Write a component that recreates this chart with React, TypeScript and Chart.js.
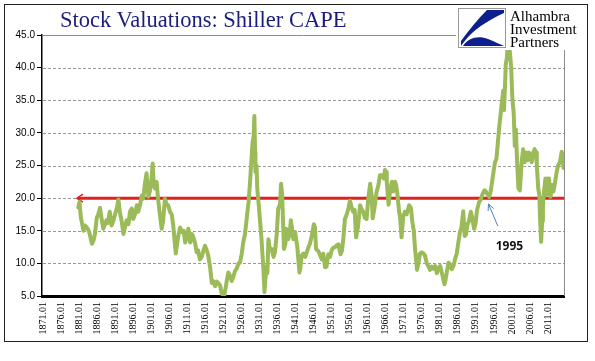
import React, { useEffect, useRef } from 'react';
import { Chart, registerables } from 'chart.js';

Chart.register(...registerables);

const TITLE = 'Stock Valuations: Shiller CAPE';
const LOGO_LINES = ['Alhambra', 'Investment', 'Partners'];

const X_TICK_YEARS = [
  1871, 1876, 1881, 1886, 1891, 1896, 1901, 1906, 1911, 1916, 1921, 1926, 1931, 1936, 1941,
  1946, 1951, 1956, 1961, 1966, 1971, 1976, 1981, 1986, 1991, 1996, 2001, 2006, 2011,
];
const Y_TICKS = [5, 10, 15, 20, 25, 30, 35, 40, 45];

// [year, CAPE]
const CAPE_1880s: [number, number][] = [
  [1880.8, 18.6], [1881.1, 19.4], [1881.5, 17.0], [1881.8, 16.2], [1882.2, 15.0], [1882.6, 15.8],
  [1883.0, 15.6], [1883.5, 15.2], [1883.9, 14.6], [1884.3, 13.6], [1884.6, 13.0], [1885.0, 13.5],
  [1885.4, 14.5], [1885.9, 17.0], [1886.3, 17.5], [1886.8, 18.5], [1887.2, 17.0], [1887.7, 15.3],
  [1888.2, 16.0], [1888.6, 16.6], [1889.0, 16.2], [1889.5, 17.9],
];
const CAPE_1890s: [number, number][] = [
  [1890.0, 15.8], [1890.5, 16.5], [1891.0, 17.6], [1891.5, 18.5], [1891.9, 19.8], [1892.3, 17.9],
  [1892.8, 16.5], [1893.3, 14.5], [1893.7, 15.5], [1894.2, 16.6], [1894.7, 16.0], [1895.1, 17.9],
  [1895.6, 18.4], [1896.0, 16.8], [1896.5, 17.5], [1897.0, 18.9], [1897.4, 17.9], [1897.9, 19.0],
  [1898.4, 20.4], [1898.8, 19.9], [1899.2, 22.0], [1899.7, 23.8],
];
const CAPE_1900s: [number, number][] = [
  [1900.2, 20.2], [1900.6, 21.0], [1901.0, 22.5], [1901.4, 25.3], [1901.7, 22.0], [1902.0, 21.5],
  [1902.5, 22.5], [1902.9, 19.9], [1903.4, 17.5], [1903.9, 15.3], [1904.3, 16.5], [1904.8, 19.9],
  [1905.3, 19.0], [1905.7, 18.9], [1906.2, 17.9], [1906.7, 17.5], [1907.1, 15.8], [1907.8, 11.5],
  [1908.5, 14.2], [1909.0, 15.5], [1909.5, 14.8],
];
const CAPE_1910s: [number, number][] = [
  [1910.0, 15.0], [1910.4, 13.2], [1910.9, 14.0], [1911.3, 15.3], [1911.8, 13.2], [1912.3, 14.5],
  [1912.7, 14.0], [1913.2, 13.0], [1913.6, 11.7], [1914.0, 12.0], [1914.5, 10.6], [1915.0, 11.0],
  [1915.5, 12.0], [1915.9, 12.7], [1916.4, 12.0], [1916.8, 11.2], [1917.3, 9.5], [1917.8, 7.0],
  [1918.2, 7.3], [1918.7, 6.5], [1919.2, 7.2], [1919.6, 7.0],
];
const CAPE_1920s: [number, number][] = [
  [1920.1, 6.6], [1920.5, 5.5], [1920.9, 5.0], [1921.3, 5.2], [1921.7, 6.5], [1922.0, 7.5],
  [1922.4, 8.6], [1922.9, 8.0], [1923.3, 7.3], [1923.8, 8.0], [1924.2, 8.8], [1924.7, 9.2],
  [1925.2, 10.0], [1925.6, 10.1], [1926.1, 11.5], [1926.5, 13.2], [1927.0, 14.5], [1927.5, 17.0],
  [1928.0, 19.5], [1928.4, 22.5], [1928.8, 26.0], [1929.1, 28.5], [1929.4, 29.5], [1929.6, 32.6],
  [1929.8, 27.0],
];
const CAPE_1930s: [number, number][] = [
  [1929.9, 24.0], [1930.2, 25.0], [1930.4, 21.5], [1930.8, 19.0], [1931.2, 16.3], [1931.6, 13.5],
  [1932.1, 9.1], [1932.4, 5.6], [1932.6, 7.0], [1932.9, 9.5], [1933.2, 8.5], [1933.5, 13.7],
  [1933.9, 12.0], [1934.4, 12.2], [1934.9, 11.0], [1935.3, 11.7], [1935.8, 14.5], [1936.2, 18.4],
  [1936.7, 19.0], [1937.0, 22.2], [1937.3, 20.5], [1937.8, 12.2], [1938.2, 13.0], [1938.4, 15.3],
  [1938.8, 14.0], [1939.0, 13.7], [1939.4, 14.5], [1939.7, 16.6],
];
const CAPE_1940s: [number, number][] = [
  [1940.0, 15.5], [1940.4, 13.7], [1940.9, 14.8], [1941.5, 12.5], [1942.1, 8.6], [1942.4, 9.5],
  [1942.7, 11.2], [1943.2, 11.5], [1943.7, 11.0], [1944.1, 11.7], [1944.6, 12.5], [1945.0, 13.0],
  [1945.5, 14.2], [1946.1, 16.0], [1946.4, 15.5], [1946.7, 12.2], [1947.3, 11.9], [1947.8, 11.3],
  [1948.3, 10.6], [1948.7, 11.5], [1949.2, 9.4], [1949.6, 9.5],
];
const CAPE_1950s: [number, number][] = [
  [1950.1, 11.4], [1950.6, 11.0], [1951.0, 12.0], [1951.5, 12.4], [1952.0, 12.5], [1952.5, 12.8],
  [1952.9, 12.9], [1953.5, 11.4], [1953.9, 12.0], [1954.3, 14.0], [1954.7, 16.8], [1955.2, 17.5],
  [1955.7, 18.5], [1956.1, 19.6], [1956.6, 18.5], [1957.0, 17.9], [1957.4, 18.2], [1957.8, 14.0],
  [1958.3, 15.5], [1958.9, 18.9], [1959.3, 18.3], [1959.8, 17.9],
];
const CAPE_1960s: [number, number][] = [
  [1960.2, 17.0], [1960.7, 16.8], [1961.2, 20.0], [1961.7, 22.2], [1962.1, 20.5], [1962.4, 16.9],
  [1962.9, 18.5], [1963.5, 21.0], [1964.0, 22.0], [1964.4, 23.5], [1965.0, 23.5], [1965.5, 23.0],
  [1965.8, 24.3], [1966.1, 24.0], [1966.3, 22.5], [1966.8, 19.0], [1967.2, 21.0], [1967.7, 22.5],
  [1968.1, 21.0], [1968.6, 22.5], [1968.9, 22.0], [1969.3, 20.4], [1969.7, 18.0],
];
const CAPE_1970s: [number, number][] = [
  [1970.0, 17.0], [1970.4, 14.0], [1970.9, 17.3], [1971.3, 17.9], [1971.8, 17.5], [1972.5, 18.9],
  [1973.0, 18.5], [1973.4, 16.3], [1973.8, 15.0], [1974.1, 12.5], [1974.7, 9.0], [1975.0, 9.8],
  [1975.5, 11.5], [1976.0, 11.7], [1976.5, 11.5], [1976.9, 11.2], [1977.4, 10.0], [1977.8, 9.6],
  [1978.3, 9.0], [1978.8, 9.5], [1979.2, 9.2], [1979.7, 9.6],
];
const CAPE_1980s: [number, number][] = [
  [1980.2, 8.5], [1980.6, 9.2], [1981.1, 9.6], [1981.6, 8.5], [1982.3, 6.8], [1982.6, 7.5],
  [1983.0, 8.8], [1983.4, 10.1], [1983.9, 9.8], [1984.3, 9.1], [1984.8, 9.6], [1985.2, 10.6],
  [1985.7, 11.5], [1986.1, 13.0], [1986.6, 14.8], [1987.0, 15.5], [1987.5, 18.0], [1987.9, 14.2],
  [1988.3, 14.5], [1988.6, 15.8], [1989.1, 16.5], [1989.6, 17.9],
];
const CAPE_1990s: [number, number][] = [
  [1990.0, 17.0], [1990.5, 15.3], [1990.9, 16.0], [1991.3, 18.1], [1991.9, 19.4], [1992.4, 19.8],
  [1992.9, 20.7], [1993.4, 21.2], [1993.8, 21.0], [1994.3, 20.5], [1994.7, 20.2], [1995.1, 21.0],
  [1995.5, 22.5], [1995.9, 24.0], [1996.3, 25.5], [1996.7, 26.0], [1997.1, 28.5], [1997.5, 31.0],
  [1997.9, 33.0], [1998.3, 35.0], [1998.6, 36.5], [1998.8, 33.5], [1999.0, 36.0], [1999.3, 40.5],
  [1999.6, 41.5], [1999.9, 44.2],
];
const CAPE_2000s: [number, number][] = [
  [2000.2, 43.5], [2000.5, 42.0], [2000.8, 40.0], [2001.1, 35.5], [2001.5, 33.0], [2001.8, 28.0],
  [2002.1, 30.5], [2002.4, 26.1], [2002.8, 21.5], [2003.2, 21.2], [2003.7, 25.5], [2004.1, 27.5],
  [2004.5, 25.5], [2004.9, 27.0], [2005.3, 25.8], [2005.7, 27.0], [2006.1, 26.5], [2006.5, 25.5],
  [2006.9, 27.0], [2007.3, 27.5], [2007.7, 27.0], [2007.9, 25.0], [2008.3, 21.5], [2008.6, 20.5],
  [2008.8, 17.0], [2009.1, 13.3], [2009.4, 16.5], [2009.6, 18.9], [2009.9, 21.0],
];
const CAPE_2010s: [number, number][] = [
  [2010.3, 23.0], [2010.6, 20.5], [2011.0, 23.0], [2011.3, 23.0], [2011.7, 20.2], [2012.2, 22.0],
  [2012.5, 21.0], [2012.9, 22.2], [2013.4, 24.0], [2013.8, 25.0], [2014.3, 25.5], [2014.8, 27.1],
  [2015.0, 26.5], [2015.3, 24.6],
];

const THRESHOLD_VALUE = 20;
const THRESHOLD_FROM_YEAR = 1880.4;
const NOTE_LABEL = '1995';
const NOTE_TIP: [number, number] = [1994.5, 19.1];
const NOTE_TAIL: [number, number] = [1997.1, 15.7];
const NOTE_TEXT_AT: [number, number] = [2000.3, 12.6];

const X_MIN = 1870.72;
const X_MAX = 2015.44;

const GREEN = '#9bbb59';
const RED = '#e0221c';
const BLUE = '#4f81bd';
const GRID = '#9a9a9a';

const decorPlugin = {
  id: 'decor',
  beforeDatasetsDraw(chart: any) {
    const { ctx, chartArea: a, scales } = chart;
    const xs = scales.x;
    const ys = scales.y;
    ctx.save();
    // dashed horizontal gridlines at the y ticks (inside the plot)
    ctx.strokeStyle = GRID;
    ctx.lineWidth = 1;
    ctx.setLineDash([3, 2]);
    for (const v of Y_TICKS) {
      if (v === Y_TICKS[0] || v === Y_TICKS[Y_TICKS.length - 1]) continue;
      const py = Math.round(ys.getPixelForValue(v)) + 0.5;
      ctx.beginPath();
      ctx.moveTo(a.left + 1, py);
      ctx.lineTo(a.right, py);
      ctx.stroke();
    }
    ctx.setLineDash([]);
    // plot frame (top and right)
    ctx.strokeStyle = '#8c8c8c';
    ctx.beginPath();
    const t = Math.round(a.top) + 0.5;
    const r = Math.round(a.right) + 0.5;
    ctx.moveTo(a.left, t);
    ctx.lineTo(r, t);
    ctx.lineTo(r, a.bottom);
    ctx.stroke();
    // threshold line with arrow head
    const yy = ys.getPixelForValue(THRESHOLD_VALUE);
    const x0 = xs.getPixelForValue(THRESHOLD_FROM_YEAR);
    ctx.strokeStyle = RED;
    ctx.lineWidth = 3;
    ctx.beginPath();
    ctx.moveTo(x0 + 1, yy);
    ctx.lineTo(a.right, yy);
    ctx.stroke();
    ctx.lineWidth = 1.5;
    ctx.beginPath();
    ctx.moveTo(x0 + 6, yy - 4);
    ctx.lineTo(x0, yy);
    ctx.lineTo(x0 + 6, yy + 4);
    ctx.stroke();
    ctx.restore();
  },
  afterDatasetsDraw(chart: any) {
    const { ctx, scales } = chart;
    const xs = scales.x;
    const ys = scales.y;
    ctx.save();
    const tx = xs.getPixelForValue(NOTE_TIP[0]);
    const ty = ys.getPixelForValue(NOTE_TIP[1]);
    const bx = xs.getPixelForValue(NOTE_TAIL[0]);
    const by = ys.getPixelForValue(NOTE_TAIL[1]);
    ctx.strokeStyle = BLUE;
    ctx.lineWidth = 1;
    ctx.beginPath();
    ctx.moveTo(bx, by);
    ctx.lineTo(tx, ty);
    ctx.stroke();
    const ang = Math.atan2(ty - by, tx - bx);
    const len = 7;
    ctx.beginPath();
    ctx.moveTo(tx - len * Math.cos(ang - 0.45), ty - len * Math.sin(ang - 0.45));
    ctx.lineTo(tx, ty);
    ctx.lineTo(tx - len * Math.cos(ang + 0.45), ty - len * Math.sin(ang + 0.45));
    ctx.stroke();
    ctx.fillStyle = '#111';
    ctx.font = 'bold 12px "Noto Sans", "Liberation Sans", sans-serif';
    ctx.textAlign = 'center';
    ctx.textBaseline = 'middle';
    ctx.fillText(NOTE_LABEL, xs.getPixelForValue(NOTE_TEXT_AT[0]), ys.getPixelForValue(NOTE_TEXT_AT[1]));
    ctx.restore();
  },
};

export default function App() {
  const canvasRef = useRef<HTMLCanvasElement | null>(null);

  useEffect(() => {
    const canvas = canvasRef.current;
    if (!canvas) return;
    const series = [
      ...CAPE_1880s, ...CAPE_1890s, ...CAPE_1900s, ...CAPE_1910s, ...CAPE_1920s, ...CAPE_1930s,
      ...CAPE_1940s, ...CAPE_1950s, ...CAPE_1960s, ...CAPE_1970s, ...CAPE_1980s, ...CAPE_1990s,
      ...CAPE_2000s, ...CAPE_2010s,
    ];
    const chart = new Chart(canvas, {
      type: 'line',
      data: {
        datasets: [
          {
            label: 'Shiller CAPE',
            data: series.map(([x, y]) => ({ x, y })),
            borderColor: GREEN,
            borderWidth: 4,
            pointRadius: 0,
            tension: 0,
            borderJoinStyle: 'round',
            borderCapStyle: 'round',
            fill: false,
          },
        ],
      },
      options: {
        animation: false,
        responsive: false,
        devicePixelRatio: 1,
        layout: { padding: { left: 0, right: 31, top: 35, bottom: 25 }, autoPadding: false } as any,
        plugins: { legend: { display: false }, tooltip: { enabled: false }, title: { display: false } },
        scales: {
          x: {
            type: 'linear',
            min: X_MIN,
            max: X_MAX,
            afterBuildTicks: (s: any) => {
              s.ticks = X_TICK_YEARS.map((v) => ({ value: v }));
            },
            afterFit: (s: any) => {
              s.height = 40;
            },
            grid: { display: false, drawTicks: false },
            border: { display: true, color: '#000', width: 3 },
            ticks: {
              autoSkip: false,
              maxRotation: 90,
              minRotation: 90,
              padding: 6,
              color: '#000',
              font: { family: '"Liberation Serif", "Times New Roman", serif', size: 10 },
              callback: (v: any) => `${v}.01`,
            },
          },
          y: {
            type: 'linear',
            min: 5,
            max: 45,
            afterBuildTicks: (s: any) => {
              s.ticks = Y_TICKS.map((v) => ({ value: v }));
            },
            afterFit: (s: any) => {
              s.width = 42;
            },
            grid: {
              drawOnChartArea: false,
              drawTicks: true,
              tickLength: 5,
              tickColor: '#000',
              tickWidth: 1,
              color: '#000',
            } as any,
            border: { display: true, color: '#000', width: 1.5 },
            ticks: {
              padding: 2,
              color: '#000',
              font: { family: '"Liberation Sans", Arial, sans-serif', size: 10 },
              callback: (v: any) => Number(v).toFixed(1),
            },
          },
        },
      },
      plugins: [decorPlugin],
    } as any);

    let alive = true;
    if ((document as any).fonts && (document as any).fonts.load) {
      Promise.all([
        (document as any).fonts.load('10px "Liberation Serif"'),
        (document as any).fonts.load('10px "Liberation Sans"'),
        (document as any).fonts.load('bold 12px "Noto Sans"'),
      ])
        .then(() => {
          if (alive) chart.update();
        })
        .catch(() => {});
    }
    return () => {
      alive = false;
      chart.destroy();
    };
  }, []);

  return (
    <div style={{ position: 'absolute', left: 0, top: 0, width: 595, height: 361, background: '#fff' }}>
      <canvas ref={canvasRef} width={595} height={361} style={{ position: 'absolute', left: 0, top: 0 }} />
      <div
        style={{
          position: 'absolute',
          left: 4,
          top: 4,
          width: 584,
          height: 338,
          boxSizing: 'border-box',
          border: '1px solid #222',
          pointerEvents: 'none',
        }}
      />
      <div
        style={{
          position: 'absolute',
          left: 60,
          top: 9,
          fontFamily: '"Liberation Serif", "Times New Roman", serif',
          fontSize: 22.5,
          lineHeight: '22px',
          color: '#1c1c7c',
          whiteSpace: 'nowrap',
        }}
      >
        {TITLE}
      </div>
      <div style={{ position: 'absolute', left: 456, top: 6, width: 124, height: 44, background: '#fff' }}>
        <svg
          width={48}
          height={40}
          viewBox="0 0 48 40"
          style={{ position: 'absolute', left: 2, top: 2 }}
        >
          <rect x={0.5} y={0.5} width={47} height={39} fill="#fff" stroke="#9a9a9a" strokeWidth={1} />
          <path d="M29 2 L46 2 L46 5 C33 11 20 19 12 27 C8 31 5 35 3 38 L3 33 C11 22 20 11 29 2 Z" fill="#0d1f8c" />
          <path d="M5 38 C10 30 20 27 30 31 C37 34 42 36 46 38 Z" fill="#0d1f8c" />
        </svg>
        <div
          style={{
            position: 'absolute',
            left: 54,
            top: 4,
            fontFamily: '"Liberation Serif", "Times New Roman", serif',
            fontSize: 15,
            lineHeight: '13px',
            color: '#000',
            whiteSpace: 'nowrap',
          }}
        >
          {LOGO_LINES.map((l) => (
            <div key={l}>{l}</div>
          ))}
        </div>
      </div>
    </div>
  );
}
